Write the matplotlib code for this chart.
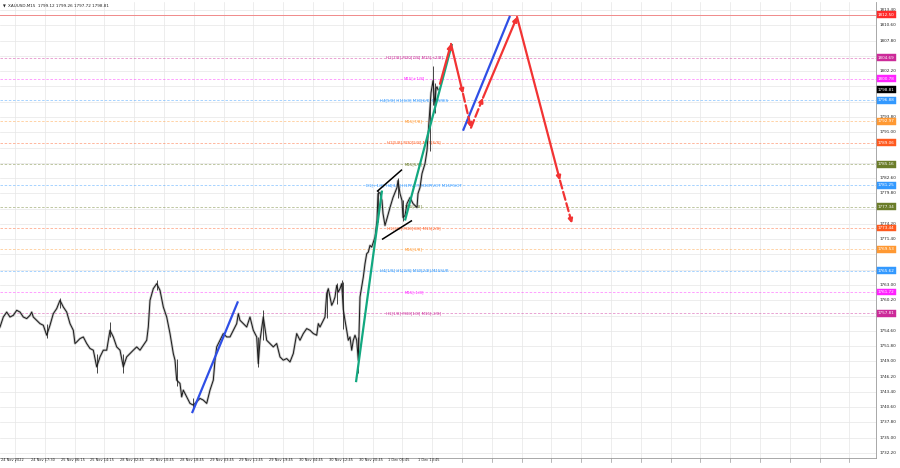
import matplotlib
matplotlib.use("Agg")
import matplotlib.pyplot as plt

# price path (bar position, close)
bar_x = [0, 3.3, 6.7, 10, 13.3, 16.7, 20, 23.3, 26.7, 30, 31.7, 33.3, 36.7, 40, 43.3, 46.7, 50,
         53.3, 56.7, 60, 63.3, 66.7, 70, 73.3, 75, 76.7, 80, 83.3, 86.7, 90, 93.3, 96.7, 100,
         103.3, 106.7, 110, 113.3, 116.7, 120, 123.3, 126.7, 130, 133.3, 136.7, 140, 143.3,
         146.7, 148.3, 150, 153.3, 156.7, 160, 163.3, 166.7, 170, 173.3, 175, 176.7, 180,
         181.7, 183.3, 186.7, 190, 193.3, 196.7, 200, 203.3, 206.7, 210, 213.3, 215, 216.7,
         220, 223.3, 226.7, 230, 233.3, 236.7, 238.3, 240, 243.3, 246.7, 250, 253.3, 256.7,
         258.3, 260, 263.3, 266.7, 270, 273.3, 276.7, 280, 283.3, 286.7, 290, 293.3, 296.7,
         300, 303.3, 306.7, 310, 313.3, 316.7, 318.3, 320, 323.3, 325, 326.7, 328.3, 330,
         331.7, 333.3, 335, 336.7, 338.3, 340, 341.7, 343.3, 345, 346.7, 348.3, 350, 351.7,
         353.3, 355, 356.7, 358.3, 360, 361.7, 363.3, 365, 366.7, 368.3, 370, 371.7, 375,
         377, 378, 380, 382, 383, 385, 387, 390, 393, 397, 398, 400, 402, 403, 405, 407, 410,
         413, 417, 418, 420, 422, 425, 427, 430, 431, 433, 435, 436, 437, 438]
close = [1755.30, 1757.13, 1758.04, 1757.13, 1757.44, 1758.36, 1758.04, 1757.13, 1756.84,
         1757.44, 1758.04, 1757.13, 1756.53, 1755.92, 1755.62, 1753.79, 1755.62, 1757.75,
         1758.67, 1760.19, 1758.97, 1758.04, 1755.92, 1754.70, 1752.27, 1752.56, 1753.18,
         1753.48, 1752.27, 1751.36, 1751.05, 1748.00, 1749.82, 1751.05, 1751.05, 1754.70,
         1753.48, 1751.65, 1751.05, 1748.00, 1749.82, 1750.44, 1751.05, 1751.65, 1751.05,
         1751.96, 1752.87, 1755.30, 1760.19, 1762.33, 1763.24, 1762.02, 1758.97, 1757.13,
         1754.10, 1750.44, 1749.22, 1745.56, 1744.95, 1742.50, 1743.73, 1742.50, 1741.30,
         1740.98, 1741.59, 1742.21, 1741.90, 1741.30, 1743.73, 1745.56, 1749.22, 1751.65,
         1752.87, 1754.10, 1753.48, 1753.48, 1754.70, 1755.92, 1757.75, 1756.53, 1755.92,
         1755.30, 1757.13, 1754.70, 1753.48, 1748.61, 1752.87, 1757.13, 1752.87, 1752.27,
         1751.65, 1752.27, 1749.82, 1749.22, 1749.52, 1748.90, 1750.44, 1754.10, 1752.87,
         1754.10, 1755.01, 1754.70, 1754.10, 1753.79, 1755.92, 1755.30, 1756.53, 1757.13,
         1761.41, 1762.33, 1760.79, 1759.27, 1759.88, 1760.79, 1762.93, 1761.71, 1762.33,
         1763.24, 1758.50, 1756.50, 1754.70, 1752.87, 1753.48, 1751.05, 1752.87, 1753.79,
         1752.87, 1749.22, 1760.79, 1762.62, 1764.45, 1766.90, 1768.73, 1769.03, 1770.25,
         1769.94, 1771.77, 1774.82, 1779.76, 1779.94, 1778.48, 1776.10, 1773.91, 1775.19,
         1777.20, 1779.03, 1780.86, 1782.14, 1779.76, 1778.48, 1775.37, 1775.74, 1777.93,
         1779.03, 1777.93, 1777.20, 1779.76, 1780.86, 1783.42, 1785.25, 1787.63, 1795.49,
         1798.23, 1800.43, 1795.85, 1798.97, 1799.33, 1798.81]

# a few long bars (position, low, high)
wick_x = [46.7, 60, 96.7, 110, 123.3, 156.7, 176.7, 193.3, 258.3, 263.3, 326.7, 336.7, 341.7,
          343.3, 358.3, 378, 398, 403, 430, 433, 435]
wick_lo = [1753.2, 1758.7, 1746.8, 1753.5, 1746.8, 1762.0, 1744.5, 1740.0, 1747.9, 1752.9,
           1757.0, 1759.5, 1761.7, 1755.0, 1746.8, 1774.5, 1779.0, 1774.7, 1787.5, 1796.0, 1794.5]
wick_hi = [1755.9, 1760.6, 1750.4, 1756.3, 1750.4, 1764.0, 1749.5, 1742.2, 1753.5, 1758.4,
           1762.0, 1763.3, 1764.0, 1763.5, 1753.5, 1780.5, 1782.6, 1778.5, 1796.5, 1803.2, 1800.0]

# murrey levels
level_prices = [1804.69, 1800.78, 1796.88, 1792.97, 1789.06, 1785.16, 1781.25,
                1777.34, 1773.44, 1769.53, 1765.62, 1761.72, 1757.81]
level_names = ["H1[7/8] M30[7/8] M15[+2/8]", "M15[+1/8]", "H4[5/8] H1[6/8] M30[6/8] M15RES",
               "M15[7/8]", "H1[5/8] M30[5/8] M15[6/8]", "M15[5/8]",
               "D1[+1/8] H4[3/8] H1PIVOT M30PIVOT M15PIVOT", "M15[3/8]",
               "H1[3/8] M30[3/8] M15[2/8]", "M15[1/8]", "H4[1/8] H1[2/8] M30[2/8] M15SUP",
               "M15[-1/8]", "H1[1/8] M30[1/8] M15[-2/8]"]
level_colors = ["#cc2a99", "#ff22ff", "#3399ff", "#ff9933", "#ff5a1f", "#6b7d2a", "#3399ff",
                "#6b7d2a", "#ff5a1f", "#ff9933", "#3399ff", "#ff22ff", "#cc2a99"]

top_level = 1812.50
last_price = 1798.81

ytick_vals = [1813.40, 1810.60, 1807.80, 1802.20, 1793.80, 1791.00, 1782.60, 1779.80,
              1774.20, 1771.40, 1763.00, 1760.20, 1754.60, 1751.80, 1749.00, 1746.20,
              1743.40, 1740.60, 1737.80, 1735.00, 1732.20]
grid_prices = [1732.2 + 2.8 * i for i in range(30)]

date_labels = ["24 Nov 2022", "24 Nov 17:30", "25 Nov 06:15", "25 Nov 14:15", "28 Nov 02:45",
               "28 Nov 10:45", "28 Nov 18:45", "29 Nov 03:45", "29 Nov 11:45", "29 Nov 19:45",
               "30 Nov 04:45", "30 Nov 12:45", "30 Nov 20:45", "1 Dec 05:45", "1 Dec 13:45"]

# drawn trend lines / projection (bar, price)
blue_low = ([192, 238], [1739.52, 1760.00])
green_1 = ([356, 382], [1745.19, 1780.31])
green_2 = ([405, 452], [1774.82, 1807.19])
black_1 = ([377, 402], [1780.13, 1784.15])
black_2 = ([382, 412], [1771.35, 1774.82])
blue_high = ([463, 510], [1791.28, 1812.32])
proj_x = [440, 451, 463, 471, 483, 517, 560, 572]
proj_p = [1799.88, 1807.19, 1798.05, 1791.83, 1797.31, 1812.13, 1782.14, 1774.27]
proj_dashed = [False, False, True, True, False, False, True]

FONT = "DejaVu Sans"
plt.rcParams['font.family'] = FONT

fig = plt.figure(figsize=(9, 4.68), dpi=100)
ax = fig.add_axes([0.0, 10 / 468, 876 / 900, 456 / 468])
ax.set_xlim(0, 876)
ax.set_ylim(1731.29, 1814.87)

# grid
for g in grid_prices:
    ax.axhline(g, color="#e6e6e6", lw=0.5, zorder=0)
vgrid = [15 + 29.8 * k for k in range(29)]
for v in vgrid:
    ax.axvline(v, color="#e6e6e6", lw=0.5, zorder=0)

# levels
ax.axhline(top_level, color="#f08a8a", lw=0.7, zorder=1)
for p, c, name in zip(level_prices, level_colors, level_names):
    ax.axhline(p, color=c, lw=0.6, ls=(0, (3, 2)), alpha=0.5, zorder=1)
    ax.text(414, p, name, color=c, fontsize=2.9, ha="center", va="center", zorder=2)

# price bars
ax.plot(bar_x, close, color="#8c8c8c", lw=1.8, alpha=0.5, zorder=3)
ax.vlines(wick_x, wick_lo, wick_hi, color="#444444", lw=0.7, zorder=3)
ax.plot(bar_x, close, color="#1a1a1a", lw=0.7, zorder=4)

# trend lines
for (xs, ps), col in [(blue_low, "#2f4fe6"), (blue_high, "#2f4fe6"), (green_1, "#12a880"),
                      (green_2, "#12a880"), (black_1, "black"), (black_2, "black")]:
    ax.plot(xs, ps, color=col, lw=1.6 if col != "black" else 1.1, zorder=5,
            solid_capstyle="butt")

for i in range(len(proj_x) - 1):
    ax.annotate("", xy=(proj_x[i + 1], proj_p[i + 1]), xytext=(proj_x[i], proj_p[i]),
                arrowprops=dict(arrowstyle="-|>", color="#f23333", lw=1.6,
                                ls="--" if proj_dashed[i] else "-", mutation_scale=6,
                                shrinkA=0, shrinkB=0), zorder=6)

# axes frame
for s in ["top", "left"]:
    ax.spines[s].set_visible(False)
ax.spines["right"].set_color("#9a9a9a")
ax.spines["bottom"].set_color("#9a9a9a")
ax.spines["right"].set_linewidth(0.6)
ax.spines["bottom"].set_linewidth(0.6)
ax.set_xticks([])
ax.set_yticks([])

# right price scale
for v in ytick_vals:
    ax.text(880, v, f"{v:.2f}", fontsize=3, ha="left", va="center", color="#222222",
            clip_on=False)
box_prices = [top_level, last_price] + level_prices
box_colors = ["#ff2a2a", "black"] + level_colors
for p, c in zip(box_prices, box_colors):
    ax.text(878, p, f"{p:.2f}", fontsize=3, ha="left", va="center", color="white",
            clip_on=False, zorder=10,
            bbox=dict(boxstyle="square,pad=0.35", fc=c, ec=c, lw=0.3))

# date labels and ticks
for k, lab in enumerate(date_labels):
    ax.text(vgrid[k] - 14, 1731.29, lab, fontsize=2.5, ha="left", va="top", color="#222222",
            clip_on=False)
for v in vgrid:
    ax.plot([v, v], [1731.29, 1730.6], color="#9a9a9a", lw=0.5, clip_on=False)

# title
ax.text(3, 1814.1, "\u25bc", fontsize=2.6, ha="left", va="center", color="#222222")
ax.text(8, 1814.1, "XAUUSD,M15  1799.12 1799.26 1797.72 1798.81", fontsize=3,
        ha="left", va="center", color="#222222")

fig.savefig("out.png", dpi=100)
